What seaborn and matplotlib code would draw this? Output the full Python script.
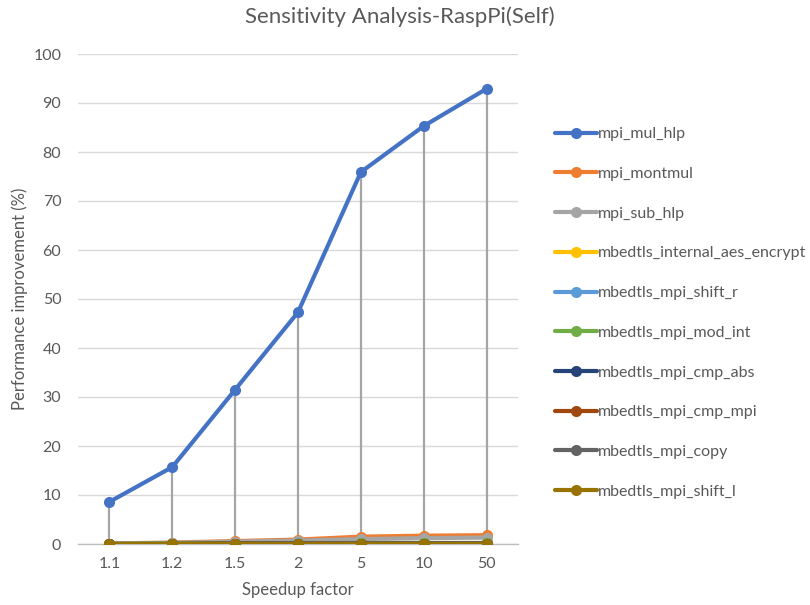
import matplotlib
matplotlib.use("Agg")
import matplotlib.pyplot as plt
import seaborn as sns
import pandas as pd
import numpy as np

speedups = ["1.1", "1.2", "1.5", "2", "5", "10", "50"]
series_names = ["mpi_mul_hlp", "mpi_montmul", "mpi_sub_hlp", "mbedtls_internal_aes_encrypt",
                "mbedtls_mpi_shift_r", "mbedtls_mpi_mod_int", "mbedtls_mpi_cmp_abs",
                "mbedtls_mpi_cmp_mpi", "mbedtls_mpi_copy", "mbedtls_mpi_shift_l"]
mpi_mul_hlp = [8.6, 15.7, 31.5, 47.3, 75.9, 85.3, 92.9]
mpi_montmul = [0.1, 0.3, 0.6, 0.9, 1.5, 1.7, 1.8]
mpi_sub_hlp = [0.1, 0.2, 0.5, 0.7, 1.0, 1.2, 1.3]
mbedtls_internal_aes_encrypt = [0.0, 0.1, 0.1, 0.2, 0.2, 0.2, 0.2]
mbedtls_mpi_shift_r = [0.0, 0.1, 0.1, 0.2, 0.2, 0.2, 0.2]
mbedtls_mpi_mod_int = [0.0, 0.1, 0.1, 0.1, 0.2, 0.2, 0.2]
mbedtls_mpi_cmp_abs = [0.0, 0.0, 0.1, 0.1, 0.1, 0.1, 0.1]
mbedtls_mpi_cmp_mpi = [0.0, 0.0, 0.1, 0.1, 0.1, 0.1, 0.1]
mbedtls_mpi_copy = [0.0, 0.0, 0.0, 0.1, 0.1, 0.1, 0.1]
mbedtls_mpi_shift_l = [0.0, 0.0, 0.0, 0.0, 0.0, 0.0, 0.0]
colors = ["#4472C4", "#ED7D31", "#A5A5A5", "#FFC000", "#5B9BD5", "#70AD47",
          "#264478", "#9E480E", "#636363", "#997300"]

all_vals = [mpi_mul_hlp, mpi_montmul, mpi_sub_hlp, mbedtls_internal_aes_encrypt,
            mbedtls_mpi_shift_r, mbedtls_mpi_mod_int, mbedtls_mpi_cmp_abs,
            mbedtls_mpi_cmp_mpi, mbedtls_mpi_copy, mbedtls_mpi_shift_l]

rows = []
for name, vals in zip(series_names, all_vals):
    for i, v in enumerate(vals):
        rows.append({"pos": i, "Speedup": speedups[i], "value": v, "series": name})
df = pd.DataFrame(rows)

sns.set_theme(style="white")
plt.rcParams['font.family'] = ['Lato', 'DejaVu Sans']
fig = plt.figure(figsize=(8.1, 6.05), dpi=100)
ax = fig.add_axes([78/810, 1-544/605, 440/810, 490/605])

# drop lines
maxv = np.max(np.array(all_vals), axis=0)
ax.vlines(range(len(speedups)), 0, maxv, colors="#A5A5A5", linewidth=1.6, zorder=1)

sns.lineplot(data=df, x="pos", y="value", hue="series", hue_order=series_names,
             palette=colors, marker="o", markersize=8, markeredgewidth=0,
             linewidth=3, ax=ax, legend=True, zorder=3)

ax.set_xlim(-0.5, len(speedups) - 0.5)
ax.set_ylim(0, 100)
ax.set_yticks(range(0, 101, 10))
ax.set_xticks(range(len(speedups)))
ax.set_xticklabels(speedups)
ax.set_xticks(np.arange(-0.5, len(speedups), 1), minor=True)
ax.tick_params(axis="x", which="minor", length=5, color="#BFBFBF", width=1, direction="out")
ax.tick_params(axis="x", which="major", length=0, pad=9)
ax.tick_params(axis="y", length=0, pad=12)
ax.tick_params(labelsize=11.5, labelcolor="#595959")
ax.yaxis.grid(True, color="#D9D9D9", linewidth=1)
ax.set_axisbelow(True)
for s in ["top", "right", "left"]:
    ax.spines[s].set_visible(False)
ax.spines["bottom"].set_color("#BFBFBF")
ax.spines["bottom"].set_linewidth(1)

ax.set_xlabel("Speedup factor", fontsize=12, color="#595959", labelpad=8)
ax.set_ylabel("Performance improvement (%)", fontsize=12, color="#595959", labelpad=4)
fig.suptitle("Sensitivity Analysis-RaspPi(Self)", x=400/810, y=1-6/605, va="top",
             fontsize=16, color="#595959")

handles, labels = ax.get_legend_handles_labels()
ax.legend(handles, labels, loc="upper left",
          bbox_to_anchor=((555-78)/440, (544-127)/490),
          frameon=False, fontsize=11.5, labelcolor="#595959", handlelength=2.6,
          handletextpad=0.1, labelspacing=1.6, borderaxespad=0, borderpad=0)

fig.savefig("out.png", dpi=100)
